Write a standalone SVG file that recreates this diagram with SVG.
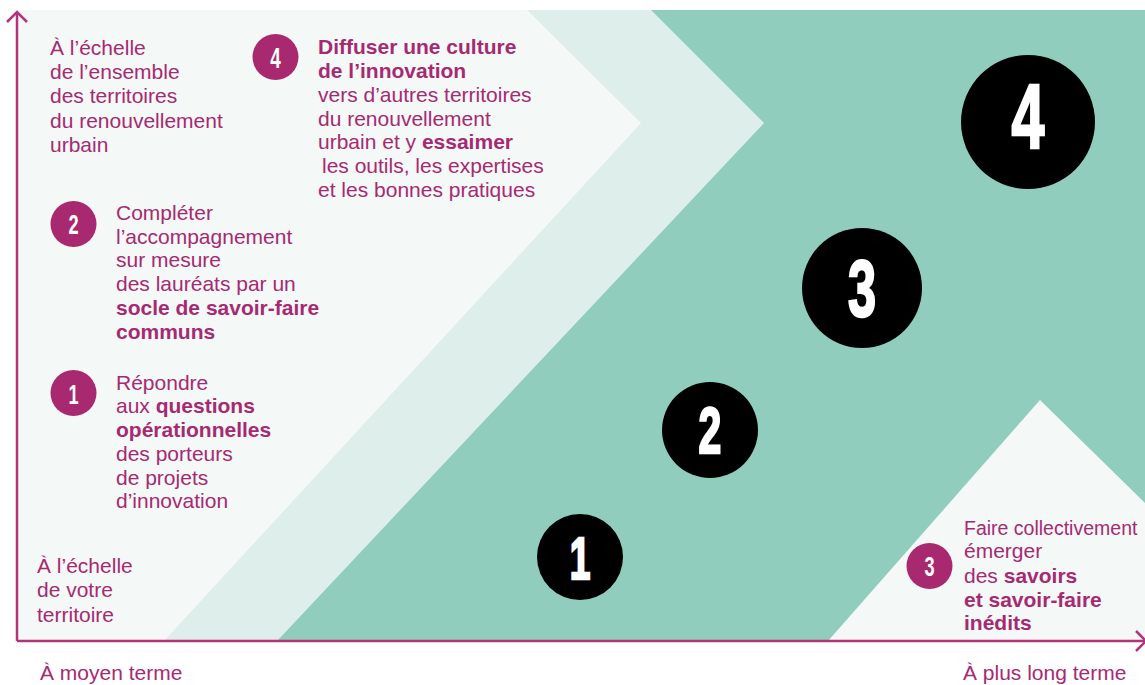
<svg xmlns="http://www.w3.org/2000/svg" width="1145" height="685" viewBox="0 0 1145 685">
<style>
.t{font-family:"Liberation Sans",Arial,sans-serif;font-size:21px;fill:#a62a72;}
.b{font-weight:bold;}
.sm{font-size:19.5px;}
.num{font-family:"Liberation Sans",Arial,sans-serif;font-weight:bold;fill:#ffffff;text-anchor:middle;}
.big{stroke:#ffffff;stroke-width:2.5;}
.mc{fill:#a8296f;}
.bc{fill:#000000;}
.axis{stroke:#b0357d;stroke-width:2.5;fill:none;}
</style>
<defs>
<marker id="arr" markerUnits="userSpaceOnUse" markerWidth="26" markerHeight="26" viewBox="0 0 26 26" refX="13" refY="13" orient="auto">
<path d="M3,3 L13,13 L3,23" fill="none" stroke="#b0357d" stroke-width="2.5"/>
</marker>
</defs>
<rect width="1145" height="685" fill="#ffffff"/>
<g id="background">
<rect x="17" y="10" width="1128" height="631" fill="#f4f8f7"/>
<polygon points="527,10 651,10 764,123 277,641 164,641 641,123" fill="#deeeea"/>
<polygon points="651,10 1145,10 1145,503 1040,400 828,641 277,641 764,123" fill="#90cdbd"/>
</g>
<g id="axes">
<line class="axis" x1="17" y1="641" x2="17" y2="12" marker-end="url(#arr)"/>
<line class="axis" x1="17" y1="641" x2="1146" y2="641" marker-end="url(#arr)"/>
</g>
<g id="step1">
<circle class="bc" cx="580" cy="557" r="43"/>
<text class="num big" font-size="60" transform="translate(580,579) scale(0.62,1)">1</text>
</g>
<g id="step2">
<circle class="bc" cx="710" cy="430" r="48"/>
<text class="num big" font-size="64" transform="translate(710,453) scale(0.64,1)">2</text>
</g>
<g id="step3">
<circle class="bc" cx="862" cy="288" r="60"/>
<text class="num big" font-size="79" transform="translate(862,316) scale(0.64,1)">3</text>
</g>
<g id="step4">
<circle class="bc" cx="1028" cy="122" r="67"/>
<text class="num big" font-size="91" transform="translate(1028,148) scale(0.65,1)">4</text>
</g>
<g id="label-top-scale">
<text class="t" x="50" y="55">À l’échelle</text>
<text class="t" x="50" y="79">de l’ensemble</text>
<text class="t" x="50" y="103">des territoires</text>
<text class="t" x="50" y="128">du renouvellement</text>
<text class="t" x="50" y="152">urbain</text>
</g>
<g id="label-bottom-scale">
<text class="t" x="37" y="573">À l’échelle</text>
<text class="t" x="37" y="597">de votre</text>
<text class="t" x="37" y="622">territoire</text>
</g>
<g id="label-x-start"><text class="t" x="40" y="680">À moyen terme</text></g>
<g id="label-x-end"><text class="t" x="963" y="680">À plus long terme</text></g>
<g id="objective4">
<circle class="mc" cx="275.5" cy="57" r="23"/>
<text class="num" font-size="29" transform="translate(275.5,68) scale(0.65,1)">4</text>
<text class="t b" x="318" y="54">Diffuser une culture</text>
<text class="t b" x="318" y="78">de l’innovation</text>
<text class="t" x="318" y="102">vers d’autres territoires</text>
<text class="t" x="318" y="126">du renouvellement</text>
<text class="t" x="318" y="149">urbain et y <tspan class="b">essaimer</tspan></text>
<text class="t" x="322" y="173">les outils, les expertises</text>
<text class="t" x="318" y="197">et les bonnes pratiques</text>
</g>
<g id="objective2">
<circle class="mc" cx="73.5" cy="224" r="23"/>
<text class="num" font-size="28" transform="translate(73.5,234) scale(0.65,1)">2</text>
<text class="t" x="116" y="220">Compléter</text>
<text class="t" x="116" y="244">l’accompagnement</text>
<text class="t" x="116" y="267">sur mesure</text>
<text class="t" x="116" y="291">des lauréats par un</text>
<text class="t b" x="116" y="315">socle de savoir-faire</text>
<text class="t b" x="116" y="339">communs</text>
</g>
<g id="objective1">
<circle class="mc" cx="73.5" cy="393" r="23"/>
<text class="num" font-size="28" transform="translate(73.5,404) scale(0.65,1)">1</text>
<text class="t" x="116" y="390">Répondre</text>
<text class="t" x="116" y="413">aux <tspan class="b">questions</tspan></text>
<text class="t b" x="116" y="437">opérationnelles</text>
<text class="t" x="116" y="461">des porteurs</text>
<text class="t" x="116" y="485">de projets</text>
<text class="t" x="116" y="508">d’innovation</text>
</g>
<g id="objective3">
<circle class="mc" cx="929.5" cy="566" r="23"/>
<text class="num" font-size="28" transform="translate(929.5,576) scale(0.65,1)">3</text>
<text class="t sm" x="964" y="535">Faire collectivement</text>
<text class="t" x="964" y="558">émerger</text>
<text class="t" x="964" y="583">des <tspan class="b">savoirs</tspan></text>
<text class="t b" x="964" y="607">et savoir-faire</text>
<text class="t b" x="964" y="630">inédits</text>
</g>
</svg>
